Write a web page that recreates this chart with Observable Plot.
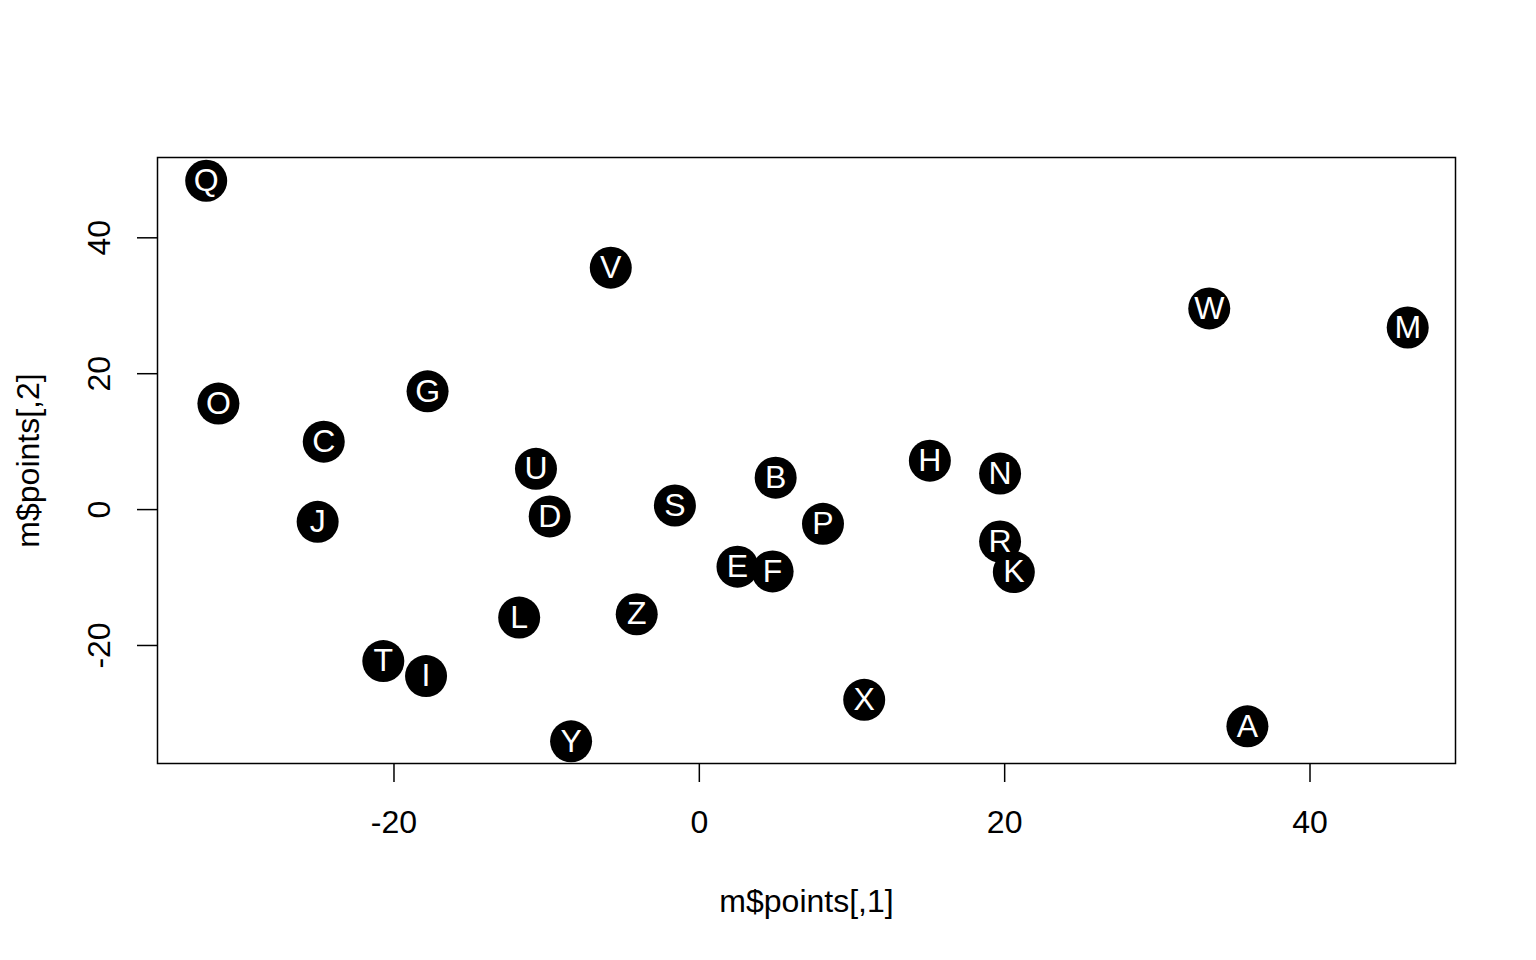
<!DOCTYPE html>
<html>
<head>
<meta charset="utf-8">
<script src="https://cdn.jsdelivr.net/npm/d3@7"></script>
<script src="https://cdn.jsdelivr.net/npm/@observablehq/plot@0.6"></script>
<style>
  html, body { margin: 0; padding: 0; background: #fff; }
  #chart svg { display: block; }
</style>
</head>
<body>
<div id="chart"></div>
<script>
const labels = ["Q","V","W","M","O","G","C","U","H","N","B","S","D","J","P","R","K","E","F","L","Z","T","I","X","A","Y"];
const xs = [-32.3,-5.8,33.4,46.4,-31.5,-17.8,-24.6,-10.7,15.1,19.7,5.0,-1.6,-9.8,-25.0,8.1,19.7,20.6,2.5,4.8,-11.8,-4.1,-20.7,-17.9,10.8,35.9,-8.4];
const ys = [48.4,35.6,29.6,26.8,15.6,17.4,10.0,6.0,7.2,5.3,4.7,0.6,-1.0,-1.8,-2.1,-4.7,-9.2,-8.4,-9.1,-15.9,-15.4,-22.3,-24.5,-28.0,-31.9,-34.1];
const xTicks = [-20, 0, 20, 40];
const yTicks = [-20, 0, 20, 40];
const xTitle = "m$points[,1]";
const yTitle = "m$points[,2]";

const data = labels.map((l, i) => ({label: l, x: xs[i], y: ys[i]}));
const font = "'Liberation Sans', Arial, Helvetica, sans-serif";

const chart = Plot.plot({
  width: 1536,
  height: 960,
  marginLeft: 157,
  marginRight: 81,
  marginTop: 157,
  marginBottom: 197,
  style: {fontFamily: font, background: "#fff", color: "#000"},
  x: {domain: [-35.49, 49.53], label: null},
  y: {domain: [-37.37, 51.82], label: null},
  marks: [
    Plot.axisX({ticks: xTicks, tickSize: 19, tickFormat: () => "", strokeWidth: 1.5, label: null}),
    Plot.axisY({ticks: yTicks, tickSize: 20, tickFormat: () => "", strokeWidth: 1.5, label: null}),
    Plot.text(xTicks, {x: d => d, frameAnchor: "bottom", dy: 59, text: d => String(d), fontSize: 32, fill: "#000", textAnchor: "middle", lineAnchor: "middle"}),
    Plot.text(yTicks, {y: d => d, frameAnchor: "left", dx: -57.5, text: d => String(d), fontSize: 32, fill: "#000", rotate: -90, textAnchor: "middle", lineAnchor: "middle"}),
    Plot.text([xTitle], {frameAnchor: "bottom", dy: 138, text: d => d, fontSize: 32, fill: "#000", textAnchor: "middle", lineAnchor: "middle"}),
    Plot.text([yTitle], {frameAnchor: "left", dx: -129, text: d => d, fontSize: 32, fill: "#000", rotate: -90, textAnchor: "middle", lineAnchor: "middle"}),
    Plot.frame({stroke: "#000", strokeWidth: 1.5}),
    Plot.dot(data, {x: "x", y: "y", r: 21, fill: "#000", stroke: "none"}),
    Plot.text(data, {x: "x", y: "y", text: "label", fill: "#fff", fontSize: 32, lineAnchor: "middle"})
  ]
});
document.getElementById("chart").appendChild(chart);
</script>
</body>
</html>
